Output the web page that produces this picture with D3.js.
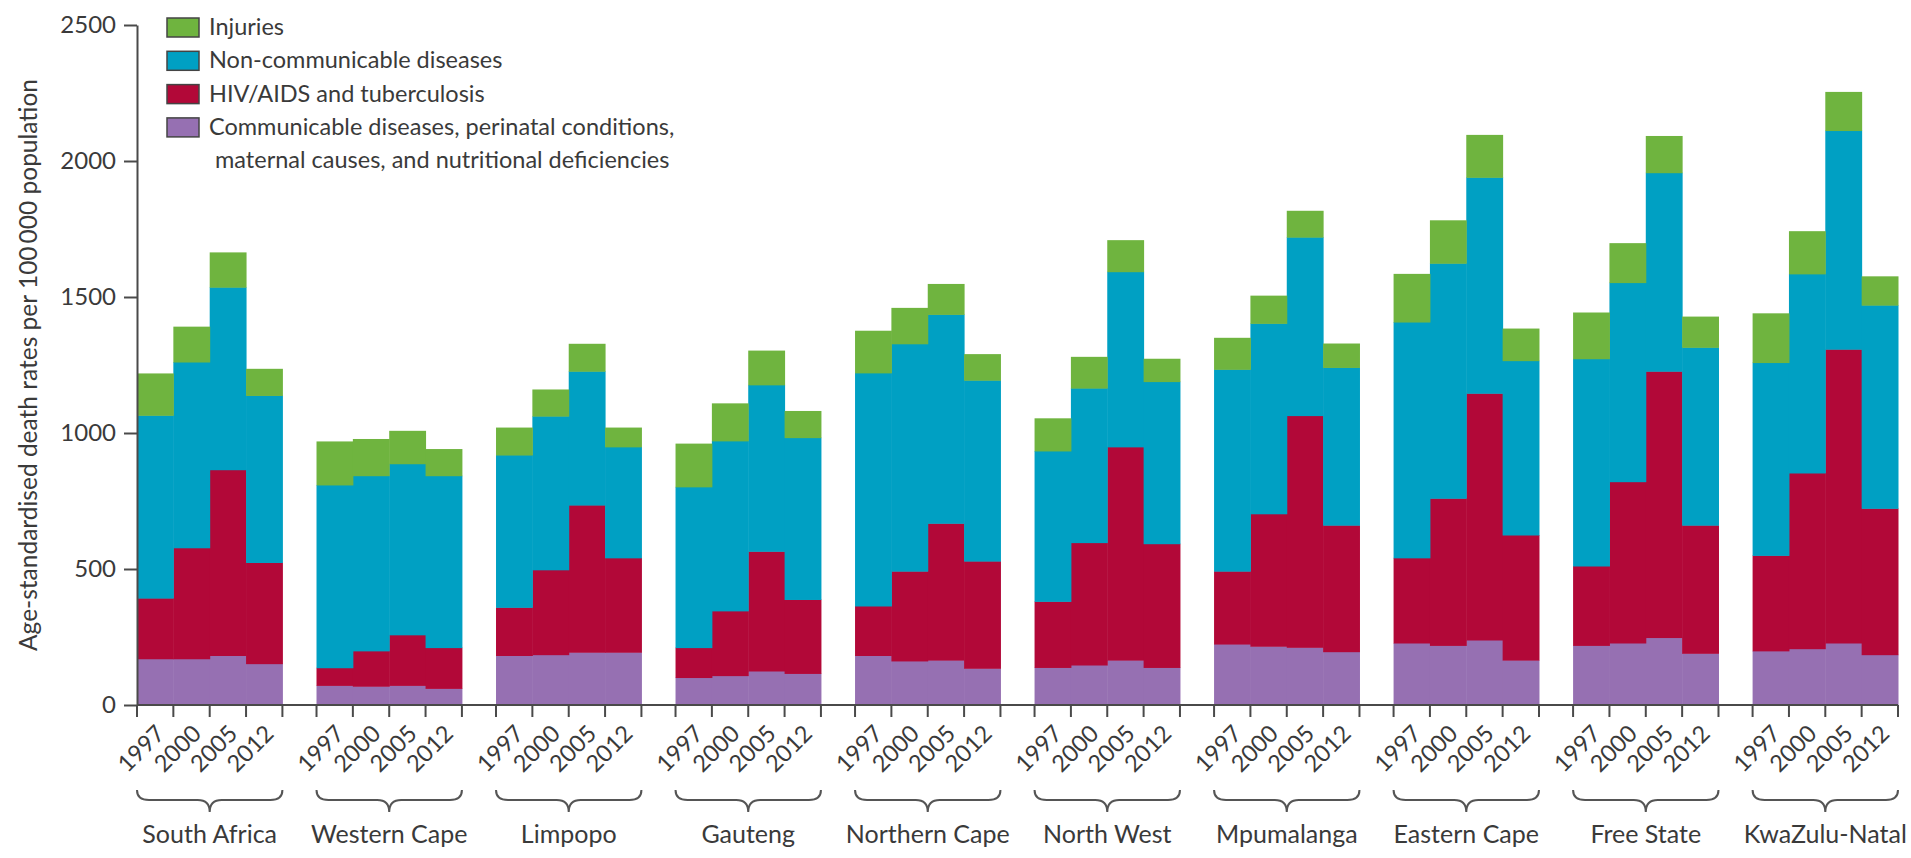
<!DOCTYPE html>
<html>
<head>
<meta charset="utf-8">
<script src="https://cdn.jsdelivr.net/npm/d3@7"></script>
<style>
  html, body { margin: 0; padding: 0; background: #fff; }
  svg { display: block; font-family: Lato, "Liberation Sans", sans-serif; }
  text { fill: #3a3a3a; }
</style>
</head>
<body>
<svg id="chart" width="1911" height="858"></svg>
<script>
// Age-standardised death rates per 100 000 population, by cause group,
// for South Africa and its provinces in 1997, 2000, 2005 and 2012.
const regions = ["South Africa", "Western Cape", "Limpopo", "Gauteng", "Northern Cape",
                 "North West", "Mpumalanga", "Eastern Cape", "Free State", "KwaZulu-Natal"];
const years = ["1997", "2000", "2005", "2012"];
const yTicks = [0, 500, 1000, 1500, 2000, 2500];

// one row per region, one value per year
const communicable = [
  [170, 170, 182, 152],
  [72, 69, 72, 61],
  [182, 185, 194, 194],
  [101, 108, 125, 116],
  [182, 162, 165, 135],
  [138, 147, 165, 138],
  [224, 216, 212, 196],
  [228, 219, 239, 165],
  [219, 228, 248, 190],
  [199, 207, 228, 185]
];
const hivTb = [
  [223, 408, 683, 372],
  [65, 130, 186, 150],
  [177, 312, 541, 347],
  [110, 238, 440, 272],
  [182, 330, 503, 394],
  [243, 450, 784, 455],
  [268, 487, 852, 465],
  [313, 541, 907, 460],
  [292, 593, 979, 471],
  [351, 646, 1080, 538]
];
const nonCommunicable = [
  [672, 683, 671, 614],
  [672, 644, 629, 632],
  [560, 565, 492, 408],
  [591, 625, 612, 595],
  [857, 836, 768, 665],
  [553, 568, 644, 596],
  [742, 700, 656, 580],
  [867, 864, 794, 641],
  [762, 732, 730, 654],
  [709, 732, 804, 747]
];
const injuries = [
  [154, 130, 128, 98],
  [160, 135, 121, 98],
  [101, 98, 101, 71],
  [159, 138, 126, 98],
  [155, 132, 112, 96],
  [120, 115, 116, 84],
  [116, 102, 97, 88],
  [177, 158, 156, 118],
  [170, 145, 135, 113],
  [181, 157, 142, 106]
];

// stacking order, bottom to top
const seriesKeys = ["communicable", "hivTb", "nonCommunicable", "injuries"];
const seriesData = { communicable, hivTb, nonCommunicable, injuries };
const colors = {
  communicable: "#9670b2",
  hivTb: "#b20838",
  nonCommunicable: "#00a0c3",
  injuries: "#6fb43f"
};
// legend, top to bottom
const legendItems = [
  { key: "injuries", lines: ["Injuries"] },
  { key: "nonCommunicable", lines: ["Non-communicable diseases"] },
  { key: "hivTb", lines: ["HIV/AIDS and tuberculosis"] },
  { key: "communicable", lines: ["Communicable diseases, perinatal conditions,", " maternal causes, and nutritional deficiencies"] }
];
const yTitle = "Age-standardised death rates per 100\u2009000 population";

// flat table: one row per region-year
const rows = [];
regions.forEach((r, i) => {
  years.forEach((yr, j) => {
    const row = { region: r, year: yr };
    seriesKeys.forEach(k => { row[k] = seriesData[k][i][j]; });
    rows.push(row);
  });
});

const svg = d3.select("#chart");
const axisColor = "#4a4a4a";

const x0 = d3.scaleBand().domain(regions).range([137, 1898]).paddingInner(0.19).paddingOuter(0).align(0);
const x1 = d3.scaleBand().domain(years).range([0, x0.bandwidth()]).padding(0);
const y = d3.scaleLinear().domain([0, 2500]).range([705, 25]);

const stacked = d3.stack().keys(seriesKeys)(rows);

// bars
const layers = svg.append("g").selectAll("g")
  .data(stacked).join("g")
  .attr("fill", d => colors[d.key]);
layers.selectAll("rect")
  .data(d => d).join("rect")
  .attr("x", d => x0(d.data.region) + x1(d.data.year))
  .attr("width", x1.bandwidth() + 0.5)
  .attr("y", d => y(d[1]))
  .attr("height", d => y(d[0]) - y(d[1]) + 0.5);

// y axis
const yAxis = svg.append("g")
  .attr("transform", `translate(${x0.range()[0]},0)`)
  .call(d3.axisLeft(y).tickValues(yTicks).tickFormat(d3.format("d"))
    .tickSize(13).tickSizeOuter(0).tickPadding(8));
yAxis.select(".domain").attr("stroke", axisColor).attr("stroke-width", 2);
yAxis.selectAll(".tick line").attr("stroke", axisColor).attr("stroke-width", 2);
yAxis.selectAll(".tick text").attr("font-size", 24).attr("font-family", "Lato").attr("fill", "#3a3a3a");

// x baseline
svg.append("line")
  .attr("x1", x0.range()[0]).attr("x2", x0.range()[1])
  .attr("y1", y(0)).attr("y2", y(0))
  .attr("stroke", axisColor).attr("stroke-width", 2);

// per-region ticks, year labels, braces and names
const groups = svg.append("g").selectAll("g")
  .data(regions).join("g")
  .attr("transform", r => `translate(${x0(r)},0)`);

const edges = years.map(yr => x1(yr)).concat([x1.range()[1]]);
groups.selectAll("line.tick")
  .data(edges).join("line")
  .attr("class", "tick")
  .attr("x1", d => d).attr("x2", d => d)
  .attr("y1", y(0)).attr("y2", y(0) + 12)
  .attr("stroke", axisColor).attr("stroke-width", 2);

groups.selectAll("text.year")
  .data(years).join("text")
  .attr("class", "year")
  .attr("text-anchor", "end")
  .attr("font-size", 23.5)
  .attr("transform", yr => `translate(${x1(yr) + x1.bandwidth() / 2 + 11},${y(0) + 30}) rotate(-45)`)
  .text(yr => yr);

const bw = x0.bandwidth();
const braceTop = 790, braceMid = 800, braceTip = 812;
groups.append("path")
  .attr("fill", "none")
  .attr("stroke", "#555")
  .attr("stroke-width", 2)
  .attr("d", () => {
    const a = 0, b = bw, m = bw / 2;
    return `M${a},${braceTop} Q${a},${braceMid} ${a + 12},${braceMid} L${m - 12},${braceMid} ` +
           `Q${m},${braceMid} ${m},${braceTip} Q${m},${braceMid} ${m + 12},${braceMid} ` +
           `L${b - 12},${braceMid} Q${b},${braceMid} ${b},${braceTop}`;
  });

groups.append("text")
  .attr("x", bw / 2)
  .attr("y", 843)
  .attr("text-anchor", "middle")
  .attr("font-size", 25)
  .text(r => r);

// y axis title
svg.append("text")
  .attr("transform", `translate(37,${(y(0) + y(2500)) / 2}) rotate(-90)`)
  .attr("text-anchor", "middle")
  .attr("font-size", 24.5)
  .text(yTitle);

// legend
const legend = svg.append("g").attr("transform", "translate(167,18)");
const item = legend.selectAll("g")
  .data(legendItems).join("g")
  .attr("transform", (d, i) => `translate(0,${i * 33.3})`);
item.append("rect")
  .attr("width", 32).attr("height", 19)
  .attr("fill", d => colors[d.key])
  .attr("stroke", "#444").attr("stroke-width", 1.5);
item.each(function (d) {
  const g = d3.select(this);
  d.lines.forEach((line, k) => {
    g.append("text")
      .attr("x", 42)
      .attr("y", 17 + k * 33.3)
      .attr("font-size", 23.5)
      .attr("xml:space", "preserve")
      .style("white-space", "pre")
      .text(line);
  });
});
</script>
</body>
</html>
